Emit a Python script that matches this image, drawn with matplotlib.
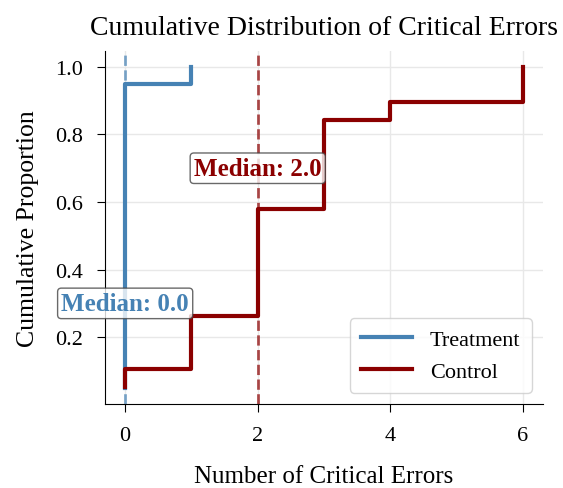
import numpy as np
import matplotlib.pyplot as plt

plt.rcParams['font.family'] = ['Liberation Serif', 'DejaVu Serif']

# ---------- Data ----------
treatment_errors = [0] * 19 + [1]
control_errors = [0, 0, 1, 1, 1, 2, 2, 2, 2, 2, 2, 3, 3, 3, 3, 3, 4, 6, 6]
groups = ["Treatment", "Control"]
colors = ["steelblue", "darkred"]
x_ticks = [0, 2, 4, 6]
y_ticks = [0.2, 0.4, 0.6, 0.8, 1.0]
label_y = [0.3, 0.7]

# ---------- Plot ----------
fig, ax = plt.subplots(figsize=(5.63, 4.89), dpi=100)
fig.subplots_adjust(left=0.187, right=0.964, top=0.894, bottom=0.172)
ax.grid(True, color="#e8e8e8", linewidth=1)
ax.set_axisbelow(True)

for name, data, c, ly in zip(groups, [treatment_errors, control_errors], colors, label_y):
    x = np.sort(data)
    y = np.arange(1, len(x) + 1) / len(x)
    ax.plot(x, y, drawstyle="steps-post", color=c, linewidth=3, label=name)
    med = np.median(data)
    ax.axvline(med, color=c, linestyle="--", linewidth=2, alpha=0.7)
    ax.text(med, ly, f"Median: {med:.1f}", color=c, fontsize=18, fontweight="bold",
            ha="center", va="center", zorder=5,
            bbox=dict(boxstyle="round,pad=0.15", facecolor="white", edgecolor="#444444", alpha=0.8))

ax.set_xticks(x_ticks)
ax.set_yticks(y_ticks)
ax.tick_params(labelsize=16, length=6, pad=10)
ax.set_xlabel("Number of Critical Errors", fontsize=18, labelpad=14)
ax.set_ylabel("Cumulative Proportion", fontsize=18.5, labelpad=12)
ax.set_title("Cumulative Distribution of Critical Errors", fontsize=20, pad=12)
ax.spines["top"].set_visible(False)
ax.spines["right"].set_visible(False)
ax.legend(loc="lower right", fontsize=16, handlelength=2.3, borderpad=0.5)

plt.savefig("out.png")
